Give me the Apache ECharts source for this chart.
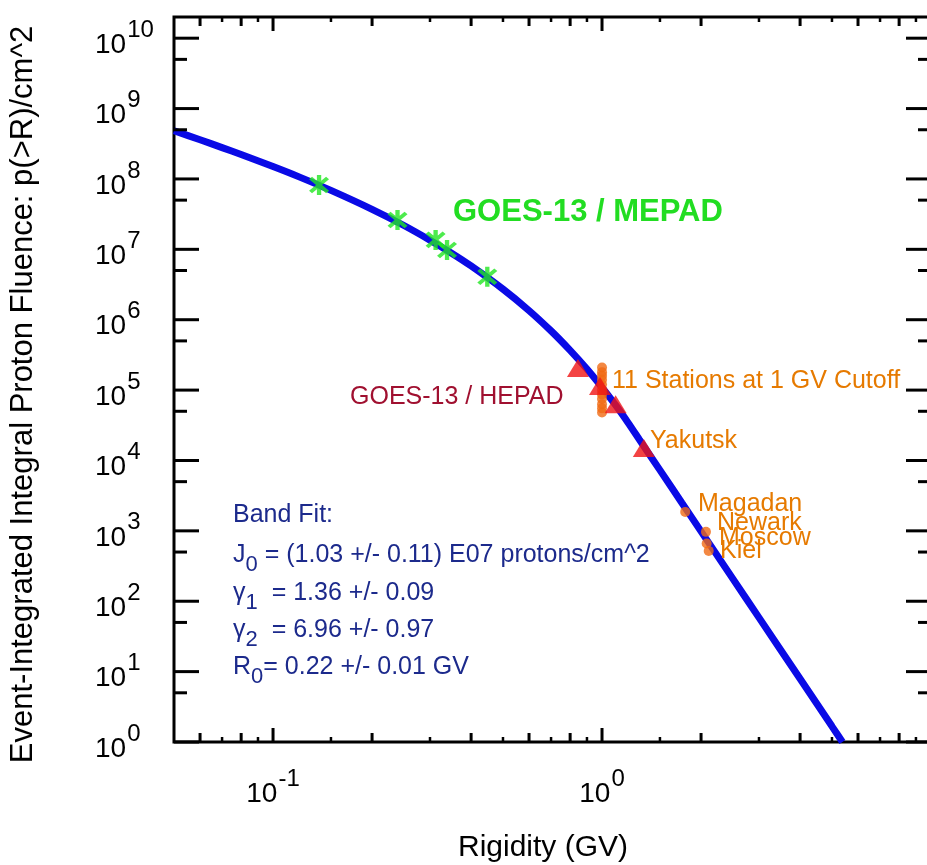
<!DOCTYPE html>
<html>
<head>
<meta charset="utf-8">
<script src="https://cdn.jsdelivr.net/npm/echarts@6/dist/echarts.min.js"></script>
<style>html,body{margin:0;padding:0;background:#fff}#c{width:927px;height:865px}</style>
</head>
<body>
<div id="c"></div>
<script>
const FONT = "'Liberation Sans', Arial, Helvetica, sans-serif";

// Band-fit curve (rigidity GV, fluence p/cm^2)
const curveR = [0.05, 0.06, 0.07, 0.08, 0.1, 0.12, 0.15, 0.2, 0.25, 0.3, 0.35, 0.4, 0.5, 0.6, 0.7, 0.8, 0.9, 1.0, 1.1, 1.2, 1.3, 1.5, 1.75, 2, 2.5, 3, 4, 5, 5.38];
const curveJ = [4.83e8, 3.60e8, 2.79e8, 2.22e8, 1.50e8, 1.07e8, 6.87e7, 3.70e7, 2.18e7, 1.35e7, 8.75e6, 5.81e6, 2.72e6, 1.35e6, 6.94e5, 3.67e5, 1.99e5, 1.09e5, 6.10e4, 3.44e4, 1.97e4, 7.29e3, 2.49e3, 984, 208, 58.5, 7.9, 1.67, 1.0];

// GOES-13 / MEPAD points
const mepadR = [0.138, 0.239, 0.312, 0.338, 0.448];
const mepadJ = [8.2e7, 2.61e7, 1.36e7, 9.8e6, 4.08e6];

// GOES-13 / HEPAD points
const hepadR = [0.845, 0.986, 1.10, 1.34];
const hepadJ = [2.06e5, 1.14e5, 6.3e4, 1.5e4];

// 11 neutron-monitor stations at 1 GV cutoff
const stationsR = [1, 1, 1, 1, 1, 1, 1, 1, 1, 1, 1];
const stationsJ = [2.1e5, 1.8e5, 1.6e5, 1.4e5, 1.2e5, 1.0e5, 8.7e4, 7.5e4, 6.3e4, 5.5e4, 4.8e4];

// Named stations
const namedStations = ['Magadan', 'Newark', 'Moscow', 'Kiel'];
const namedR = [1.79, 2.07, 2.08, 2.11];
const namedJ = [1.86e3, 968, 661, 519];

// Axis ranges, ticks and tick labels
const X_MIN = 0.05, X_MAX = 10, Y_MIN = 1, Y_MAX = 2e10;
const xMajorTicks = [0.1, 1];
const xMajorLabels = ['-1', '0'];
const xMidTicks = [0.06, 0.08, 0.2, 0.4, 0.6, 0.8, 2, 4, 6, 8];
const xSmallTicks = [0.07, 0.09, 0.15, 0.3, 0.5, 0.7, 0.9, 1.5, 3, 5, 7, 9];
const yMajorTicks = [1, 10, 100, 1e3, 1e4, 1e5, 1e6, 1e7, 1e8, 1e9, 1e10];
const yMajorLabels = ['0', '1', '2', '3', '4', '5', '6', '7', '8', '9', '10'];
const yMinorTicks = [5, 50, 500, 5e3, 5e4, 5e5, 5e6, 5e7, 5e8, 5e9];

const zip = (a, b) => a.map((v, i) => [v, b[i]]);

// tick table for the custom series: [x, y, kind, labelIndex]
const tickData = [];
xMajorTicks.forEach((v, i) => tickData.push([v, Y_MIN, 0, i]));
xMidTicks.forEach(v => tickData.push([v, Y_MIN, 1, -1]));
xSmallTicks.forEach(v => tickData.push([v, Y_MIN, 2, -1]));
yMajorTicks.forEach((v, i) => tickData.push([X_MIN, v, 3, i]));
yMinorTicks.forEach(v => tickData.push([X_MIN, v, 4, -1]));
const TICK_LEN = [14, 9, 5, 25, 13];

const BASE_SIZE = 28, SUP_SIZE = 24;
const mctx = document.createElement('canvas').getContext('2d');
function textW(t, size) { mctx.font = size + 'px ' + FONT; return mctx.measureText(t).width; }

function powerText(xLeft, yBase, exp) {
  const wb = textW('10', BASE_SIZE);
  return [
    { type: 'text', style: { text: '10', x: xLeft, y: yBase, fill: '#000', fontSize: BASE_SIZE, fontFamily: FONT, align: 'left', verticalAlign: 'middle' } },
    { type: 'text', style: { text: exp, x: xLeft + wb + 1, y: yBase - 15, fill: '#000', fontSize: SUP_SIZE, fontFamily: FONT, align: 'left', verticalAlign: 'middle' } }
  ];
}

function renderTick(params, api) {
  const cs = params.coordSys;
  const k = api.value(2);
  const li = api.value(3);
  const p = api.coord([api.value(0), api.value(1)]);
  const L = TICK_LEN[k];
  const st = { stroke: '#000', lineWidth: k === 2 ? 2.5 : 3 };
  let children = [];
  if (k < 3) {
    const yb = cs.y + cs.height, yt = cs.y;
    children.push({ type: 'line', shape: { x1: p[0], y1: yb, x2: p[0], y2: yb - L }, style: st });
    children.push({ type: 'line', shape: { x1: p[0], y1: yt, x2: p[0], y2: yt + L }, style: st });
    if (k === 0) {
      const exp = xMajorLabels[li];
      const total = textW('10', BASE_SIZE) + 1 + textW(exp, SUP_SIZE);
      children = children.concat(powerText(p[0] - total / 2, yb + 52, exp));
    }
  } else {
    const xl = cs.x, xr = cs.x + cs.width;
    children.push({ type: 'line', shape: { x1: xl, y1: p[1], x2: xl + L, y2: p[1] }, style: st });
    children.push({ type: 'line', shape: { x1: xr, y1: p[1], x2: xr - L, y2: p[1] }, style: st });
    if (k === 3) {
      children = children.concat(powerText(xl - 79, p[1] + 7, yMajorLabels[li]));
    }
  }
  return { type: 'group', children: children };
}

const ASTERISK = 'path://M41,0L59,0L59,100L41,100Z M20.8,8.4L91.6,79.2L79.2,91.6L8.4,20.8Z M91.6,20.8L20.8,91.6L8.4,79.2L79.2,8.4Z';

const BLUE_TXT = '#1c2a8c';
const ORANGE_TXT = '#e67a00';
const ORANGE_PT = '#f06a14';

function fitLine(y, main, sub, rest) {
  return {
    type: 'text', x: 233, y: y, z: 100,
    style: {
      text: '{n|' + main + '}{s|' + sub + '}{n|' + rest + '}',
      fill: BLUE_TXT, verticalAlign: 'top', align: 'left',
      rich: {
        n: { fontSize: 25, fontFamily: FONT, fill: BLUE_TXT, verticalAlign: 'top' },
        s: { fontSize: 22, fontFamily: FONT, fill: BLUE_TXT, verticalAlign: 'top', padding: [11, 0, 0, 0] }
      }
    }
  };
}
function plainText(x, y, text, color, size, weight) {
  return {
    type: 'text', x: x, y: y, z: 100,
    style: { text: text, fill: color, fontSize: size, fontFamily: FONT, fontWeight: weight || 'normal', verticalAlign: 'middle', align: 'left' }
  };
}

const chart = echarts.init(document.getElementById('c'), null, { renderer: 'canvas' });
chart.setOption({
  animation: false,
  backgroundColor: '#fff',
  grid: { left: 174, right: -4, top: 17, bottom: 123, show: true, borderColor: '#000', borderWidth: 3, backgroundColor: 'transparent', containLabel: false, outerBoundsMode: 'none' },
  xAxis: {
    type: 'log', logBase: 10, min: X_MIN, max: X_MAX,
    axisLine: { show: false }, axisTick: { show: false }, splitLine: { show: false }, minorTick: { show: false },
    axisLabel: { show: false },
    name: 'Rigidity (GV)', nameLocation: 'middle', nameGap: 91,
    nameTextStyle: { fontSize: 30, fontFamily: FONT, color: '#000', padding: [0, 19, 0, 0] }
  },
  yAxis: {
    type: 'log', logBase: 10, min: Y_MIN, max: Y_MAX,
    axisLine: { show: false }, axisTick: { show: false }, splitLine: { show: false }, minorTick: { show: false },
    axisLabel: { show: false },
    name: 'Event-Integrated Integral Proton Fluence: p(>R)/cm^2', nameLocation: 'middle', nameRotate: 90, nameGap: 135,
    nameTextStyle: { fontSize: 31, fontFamily: FONT, color: '#000', padding: [0, 30, 0, 0] }
  },
  series: [
    { type: 'custom', name: 'axis ticks', data: tickData, renderItem: renderTick, silent: true, z: 10,
      dimensions: ['x', 'y', 'k', 'l'], encode: { x: 0, y: 1 } },
    { type: 'line', name: 'Band Fit', data: zip(curveR, curveJ), showSymbol: false, smooth: 0.25,
      lineStyle: { color: '#0a0ae6', width: 7 }, z: 2, silent: true },
    { type: 'scatter', name: 'GOES-13 / MEPAD', data: zip(mepadR, mepadJ), symbol: ASTERISK, symbolSize: 20,
      itemStyle: { color: '#22e622' }, z: 3 },
    { type: 'scatter', name: '11 Stations', data: zip(stationsR, stationsJ), symbol: 'circle', symbolSize: 10,
      itemStyle: { color: ORANGE_PT }, z: 4 },
    { type: 'scatter', name: 'Named stations', data: zip(namedR, namedJ), symbol: 'circle', symbolSize: 10,
      itemStyle: { color: ORANGE_PT }, z: 4 },
    { type: 'scatter', name: 'GOES-13 / HEPAD', data: zip(hepadR, hepadJ), symbol: 'triangle', symbolSize: [22, 18],
      itemStyle: { color: '#f01414' }, z: 5 }
  ],
  graphic: [
    plainText(453, 212, 'GOES-13 / MEPAD', '#22dd22', 31, 'bold'),
    plainText(350, 397, 'GOES-13 / HEPAD', '#a01030', 25),
    plainText(612, 381, '11 Stations at 1 GV Cutoff', ORANGE_TXT, 25),
    plainText(650, 441, 'Yakutsk', ORANGE_TXT, 25),
    plainText(698, 504, namedStations[0], ORANGE_TXT, 25),
    plainText(717, 523, namedStations[1], ORANGE_TXT, 25),
    plainText(719, 538, namedStations[2], ORANGE_TXT, 25),
    plainText(720, 551, namedStations[3], ORANGE_TXT, 25),
    plainText(233, 515, 'Band Fit:', BLUE_TXT, 25),
    fitLine(543, 'J', '0', ' = (1.03 +/- 0.11) E07 protons/cm^2'),
    fitLine(581, '\u03b3', '1', '  = 1.36 +/- 0.09'),
    fitLine(618, '\u03b3', '2', '  = 6.96 +/- 0.97'),
    fitLine(655, 'R', '0', '= 0.22 +/- 0.01 GV')
  ]
});
</script>
</body>
</html>
